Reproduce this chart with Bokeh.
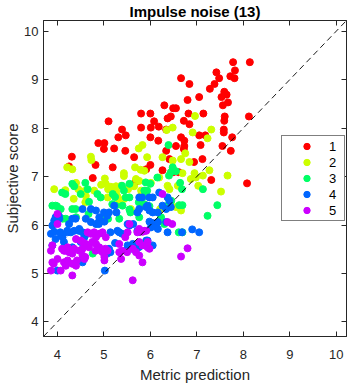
from bokeh.plotting import figure
from bokeh.models import (Range1d, FixedTicker, LinearAxis, Legend, LegendItem,
                          Slope, CustomJSTickFormatter, ColumnDataSource)
from bokeh.embed import file_html
from bokeh.resources import INLINE

# ---------------- data ----------------
title_text = "Impulse noise (13)"
x_label = "Metric prediction"
y_label = "Subjective score"
tick_values = [4, 5, 6, 7, 8, 9, 10]
group_names = ["1", "2", "3", "4", "5"]
group_colors = ["#FF0000", "#CCFF00", "#00FF66", "#0066FF", "#CC00FF"]

g1_x = [7.78, 8.14, 7.42, 7.82, 6.66, 7.48, 7.72, 7.81, 6.84, 7.38, 7.28, 7.59, 7.64, 7.53, 7.05, 6.80,
        7.67, 7.56, 6.30, 6.49, 6.55, 6.00, 6.82, 7.14, 7.60, 8.12, 6.44, 6.37, 5.80, 6.84, 6.72, 5.10,
        6.08, 7.58, 7.58, 7.59, 5.39, 5.47, 5.31, 5.80, 6.01, 6.00, 6.17, 7.05, 7.18, 6.66, 6.73, 6.73,
        6.72, 7.76, 4.88, 5.01, 5.00, 5.22, 5.46, 6.55, 7.08, 7.55, 7.73, 6.34, 4.31, 4.82, 5.65, 6.00,
        6.41, 6.94, 7.12, 5.19, 6.26, 6.49, 6.61, 7.31, 8.08, 4.25, 4.76, 5.68, 5.91, 6.34, 6.18]
g1_y = [9.36, 9.36, 9.15, 9.19, 9.03, 9.03, 9.07, 9.03, 8.91, 8.91, 8.81, 8.75, 8.69, 8.64, 8.64, 8.58,
        8.53, 8.47, 8.47, 8.41, 8.41, 8.30, 8.30, 8.30, 8.24, 8.24, 8.24, 8.20, 8.30, 8.08, 8.15, 8.14,
        8.14, 7.97, 7.91, 8.15, 7.97, 7.85, 7.81, 8.01, 8.01, 7.81, 7.74, 7.85, 7.85, 7.81, 7.74, 7.63,
        7.57, 7.81, 7.69, 7.69, 7.57, 7.58, 7.53, 7.63, 7.65, 7.63, 7.53, 7.53, 7.41, 7.24, 7.40, 7.24,
        7.36, 7.30, 7.36, 7.19, 7.13, 7.09, 7.09, 6.93, 6.86, 7.21, 6.97, 6.89, 7.15, 7.97, 8.03]

g2_x = [6.96, 6.48, 6.35, 7.31, 6.91, 7.23, 5.83, 5.75, 4.72, 4.73, 5.93, 6.26, 6.48, 6.66, 6.84, 6.75,
        5.67, 5.79, 5.87, 5.43, 5.43, 5.02, 5.69, 5.76, 6.19, 6.69, 6.95, 6.98, 7.13, 7.27, 7.66, 6.87,
        7.03, 7.52, 3.93, 4.17, 4.40, 4.45, 4.58, 4.61, 4.79, 4.94, 5.04, 5.15, 5.26, 5.27, 5.37, 5.65,
        5.80, 5.29, 5.33, 5.44, 5.08, 5.58, 6.41, 6.37, 6.59, 6.21, 4.21, 4.32, 4.35, 4.60, 5.81, 6.01,
        6.55, 6.66, 5.52, 5.09]
g2_y = [8.25, 8.01, 7.96, 7.97, 7.91, 7.79, 7.65, 7.58, 7.41, 7.34, 7.40, 7.40, 7.33, 7.36, 7.30, 7.48,
        7.19, 7.14, 7.12, 7.07, 7.01, 6.96, 6.95, 6.91, 6.98, 7.07, 7.07, 6.98, 7.02, 7.13, 7.02, 6.95,
        6.81, 6.69, 6.74, 6.72, 6.87, 6.74, 6.70, 6.60, 6.71, 6.83, 6.85, 6.79, 6.80, 6.71, 6.81, 6.80,
        6.71, 6.59, 6.50, 6.54, 6.57, 6.33, 6.74, 6.81, 6.81, 6.33, 7.19, 7.15, 6.54, 6.47, 6.64, 6.87,
        6.37, 6.30, 6.74, 6.74]

g3_x = [6.39, 6.48, 6.44, 6.40, 6.55, 6.15, 5.90, 6.00, 5.55, 4.60, 4.32, 4.36, 4.65, 4.10, 4.17, 4.50,
        4.86, 4.93, 5.19, 5.24, 5.39, 5.43, 5.47, 5.55, 5.87, 5.93, 5.91, 6.68, 6.64, 7.13, 5.75, 6.40,
        6.45, 3.89, 3.96, 3.99, 4.07, 4.32, 4.39, 4.68, 5.18, 5.25, 5.40, 5.55, 5.57, 5.87, 5.98, 6.62,
        6.69, 7.44, 7.23, 4.11, 4.18, 4.40, 4.67, 4.97, 5.09, 5.33, 5.76, 6.23, 6.30, 6.61, 6.69, 4.76]
g3_y = [7.65, 7.19, 7.09, 7.02, 7.11, 6.98, 6.88, 6.85, 6.85, 6.87, 6.85, 6.80, 6.74, 6.67, 6.64, 6.64,
        6.64, 6.57, 6.64, 6.58, 6.81, 6.71, 6.57, 6.57, 6.71, 6.71, 6.60, 6.74, 6.87, 6.74, 6.47, 6.44,
        6.50, 6.40, 6.40, 6.39, 6.33, 6.33, 6.33, 6.48, 6.43, 6.40, 6.40, 6.32, 6.26, 6.43, 6.39, 6.41,
        6.41, 6.41, 6.19, 6.13, 6.13, 6.16, 6.23, 6.13, 6.13, 6.13, 6.16, 6.16, 6.02, 5.85, 5.85, 5.41]

g4_x = [5.76, 5.82, 5.98, 6.05, 6.19, 6.37, 6.41, 5.94, 5.91, 5.98, 6.05, 6.26, 6.34, 6.44, 6.16, 5.76,
        5.72, 4.54, 4.61, 4.72, 4.83, 4.90, 5.00, 5.07, 5.11, 5.27, 5.22, 3.93, 3.89, 3.96, 4.03, 4.04,
        4.25, 4.32, 4.39, 4.72, 4.83, 4.89, 5.51, 5.55, 5.63, 5.98, 6.05, 6.12, 6.16, 6.01, 6.16, 6.34,
        6.37, 6.68, 6.90, 7.05, 3.86, 3.93, 4.07, 4.11, 4.14, 3.89, 4.22, 4.29, 4.36, 4.47, 4.54, 4.58,
        4.64, 4.90, 5.01, 5.14, 5.29, 5.33, 5.39, 5.72, 5.76, 5.24, 5.11, 5.14, 5.07, 5.51, 5.62, 5.61,
        5.75, 5.91, 5.94, 6.05, 5.47, 3.96, 4.32, 4.50, 4.54, 4.00, 5.02, 4.06, 4.21, 4.46]
g4_y = [6.57, 6.57, 6.57, 6.57, 6.67, 6.57, 6.50, 6.40, 6.37, 6.30, 6.26, 6.40, 6.33, 6.37, 6.26, 6.33,
        6.26, 6.33, 6.13, 6.33, 6.30, 6.16, 6.26, 6.19, 6.26, 6.26, 6.40, 6.09, 5.99, 6.16, 6.19, 6.13,
        6.02, 6.13, 6.13, 6.06, 6.02, 6.02, 6.02, 5.99, 6.02, 6.07, 6.04, 5.99, 6.06, 5.95, 5.92, 6.06,
        5.85, 5.85, 5.91, 5.85, 5.82, 5.86, 5.82, 5.75, 5.65, 5.58, 5.85, 5.85, 5.88, 5.92, 5.85, 5.75,
        5.82, 6.09, 6.07, 5.85, 5.88, 5.85, 5.82, 5.88, 5.86, 5.63, 5.51, 5.44, 5.41, 5.58, 5.61, 5.51,
        5.54, 5.68, 5.68, 5.58, 5.47, 5.71, 5.54, 5.65, 5.23, 5.06, 5.06, 5.85, 5.88, 5.88]

g5_x = [6.26, 4.00, 4.00, 6.37, 6.47, 5.76, 5.87, 5.83, 5.91, 5.72, 5.51, 5.55, 5.46, 4.65, 4.72, 4.79,
        4.83, 4.90, 4.97, 5.04, 4.75, 4.83, 4.61, 4.68, 4.90, 4.94, 4.97, 5.01, 5.01, 5.08, 5.03, 4.82,
        5.33, 5.33, 5.37, 5.39, 5.50, 5.62, 5.69, 5.76, 5.76, 5.83, 5.94, 5.98, 5.94, 5.83, 5.62, 6.80,
        6.66, 4.40, 4.50, 4.54, 4.36, 4.47, 4.54, 4.54, 4.58, 4.60, 4.42, 4.35, 4.32, 4.40, 4.32, 4.14,
        4.22, 4.25, 4.10, 4.17, 4.32, 4.14, 4.22, 4.18, 3.86, 3.89, 3.89, 3.86, 4.00, 4.07, 3.92]
g5_y = [6.64, 6.23, 6.02, 6.06, 6.02, 5.92, 5.88, 5.86, 5.88, 5.85, 5.85, 6.02, 5.75, 5.85, 5.82, 5.85,
        5.75, 5.82, 5.85, 5.75, 5.65, 5.61, 5.61, 5.54, 5.54, 5.47, 5.44, 5.34, 5.27, 5.47, 5.51, 5.47,
        5.61, 5.44, 5.30, 5.47, 5.44, 5.51, 5.44, 5.37, 5.65, 5.58, 5.54, 5.51, 5.65, 5.23, 4.86, 5.52,
        5.35, 5.71, 5.68, 5.65, 5.51, 5.47, 5.51, 5.37, 5.30, 5.34, 5.27, 5.20, 5.20, 5.16, 4.96, 5.47,
        5.54, 5.44, 5.51, 5.47, 5.41, 5.23, 5.27, 5.16, 5.47, 5.58, 5.23, 5.06, 5.30, 5.06, 5.20]

groups_x = [g1_x, g2_x, g3_x, g4_x, g5_x]
groups_y = [g1_y, g2_y, g3_y, g4_y, g5_y]
axis_min, axis_max = 3.7, 10.22

# ---------------- figure ----------------
FONT = "Liberation Sans"
TXT = "#262626"

p = figure(width=351, height=385, output_backend="svg", toolbar_location=None,
           x_range=Range1d(axis_min, axis_max), y_range=Range1d(axis_min, axis_max),
           min_border_left=43, min_border_right=5, min_border_top=15, min_border_bottom=47)
p.title.text = title_text
p.title.align = "center"
p.title.text_font = FONT
p.title.text_font_size = "15px"
p.title.text_font_style = "bold"
p.title.text_color = "#000000"
p.title.standoff = 1
p.background_fill_color = "white"
p.border_fill_color = "white"
p.outline_line_color = TXT
p.outline_line_width = 1
p.xgrid.visible = False
p.ygrid.visible = False

def style_axis(ax, labels=True):
    ax.ticker = FixedTicker(ticks=tick_values)
    ax.major_tick_in = 5
    ax.major_tick_out = 0
    ax.minor_tick_in = 0
    ax.minor_tick_out = 0
    ax.axis_line_color = TXT
    ax.major_tick_line_color = TXT
    ax.major_label_text_font = FONT
    ax.major_label_text_font_size = "13px"
    ax.major_label_text_color = TXT
    ax.axis_label_text_font = FONT
    ax.axis_label_text_font_size = "15px"
    ax.axis_label_text_font_style = "normal"
    ax.axis_label_text_color = TXT
    if not labels:
        ax.formatter = CustomJSTickFormatter(code="return ''")
        ax.major_label_standoff = 0
        ax.major_label_text_font_size = "0px"

style_axis(p.xaxis[0])
style_axis(p.yaxis[0])
p.xaxis[0].axis_label = x_label
p.yaxis[0].axis_label = y_label
p.xaxis[0].major_label_standoff = 13
p.yaxis[0].major_label_standoff = 5
p.xaxis[0].axis_label_standoff = 4
p.yaxis[0].axis_label_standoff = 0

top_ax = LinearAxis()
right_ax = LinearAxis()
style_axis(top_ax, labels=False)
style_axis(right_ax, labels=False)
p.add_layout(top_ax, "above")
p.add_layout(right_ax, "right")

# identity line
p.add_layout(Slope(gradient=1, y_intercept=0, line_color="black",
                   line_width=0.9, line_dash="6 4"))

items = []
for name, col, gx, gy in zip(group_names, group_colors, groups_x, groups_y):
    src = ColumnDataSource(data=dict(x=gx, y=gy))
    r = p.scatter("x", "y", source=src, size=7, fill_color=col, line_color=col)
    items.append(LegendItem(label=name, renderers=[r]))

legend = Legend(items=items, location=(238, 115), padding=2, spacing=0,
                glyph_width=45, glyph_height=16, label_height=16,
                label_standoff=0, label_width=13,
                label_text_font=FONT, label_text_font_size="13px", label_text_color="#000000",
                border_line_color="#000000", border_line_width=1,
                background_fill_color="white", background_fill_alpha=1.0,
                margin=0)
p.add_layout(legend, "center")

open("out.html", "w").write(file_html(p, INLINE))
